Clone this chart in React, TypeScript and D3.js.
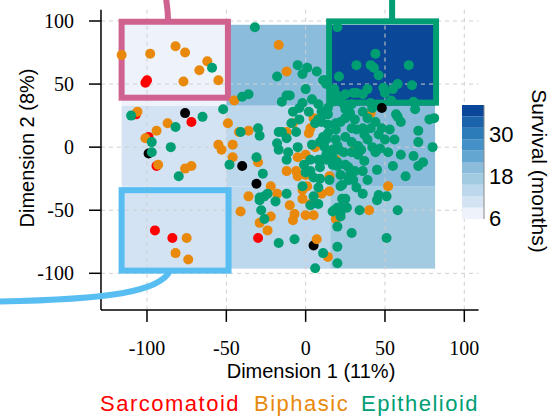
import React, { useEffect, useRef } from 'react';
import * as d3 from 'd3';

const xTicks = [-100, -50, 0, 50, 100];
const yTicks = [-100, -50, 0, 50, 100];
const plotLimits = [-129, 109];

// survival heatmap behind the points (rows bottom -> top)
const cellBreaksX = [-116, -50, 15.5, 81.6];
const cellBreaksY = [-96.3, -31.3, 32.9, 97];
const survivalGrid = [
  [10, 13, 17],
  [10.5, 13.5, 20.5],
  [7, 20, 37],
];
const survivalDomain = [5.7, 38.3];
const survivalTicks = [6, 18, 30];
const survivalColors = ['#edf2fb', '#d3e3f3', '#bdd7ec', '#a2cbe2', '#8bbcdb', '#62a6d1', '#4391c6', '#2d7cba', '#1b63aa', '#0a4798'];

// highlight boxes [x0, x1, y0, y1]
const pinkBox = [-116, -49, 39.2, 99.4];
const greenBox = [14.8, 82.2, 35.3, 99.7];
const blueBox = [-116, -48.6, -97.9, -34.1];

const sarcomatoid = [[-101,51],[-100,53],[-107,26],[-72,20],[-99,8],[-94,-15],[-95,-66],[-84,-72],[-30,-72]];
const unclassified = [[-76,27],[-99,-5],[-40,-15],[-31,-29],[5,-78],[48,31]];
const biphasic = [
  [-116,73],[-98,74],[-82,80],[-76,75],[-62,68],[-67,61],[-77,52],[-55,53],[-106,28],[-87,19],
  [-94,13],[-101,7],[-93,-14],[-76,-17],[-72,-15],[-45,37],[-49,19],[-42,12],[-36,13],[-55,2],
  [-53,-2],[-46,2],[-46,-8],[-30,-12],[-22,-31],[-36,-39],[-18,-37],[-41,-51],[-22,-55],[-29,-60],
  [-24,-66],[-10,-46],[-7,-53],[-8,-58],[-2,-41],[-2,-34],[3,-45],[0,-54],[5,-54],[10,-37],
  [15,-35],[7,-73],[14,-87],[-75,-72],[-82,-84],[-74,-89],[-17,81],[-12,60],[5,23],[-8,19],
  [-12,12],[2,11],[6,0],[-5,-8],[0,-6],[-12,-19],[-6,-19],[-5,-23],[0,-22],[15,-23],
  [19,-10],[31,-1],[52,-31],[19,-57],[40,-50],[41,27],[1,-31],[3,15],
];
const epithelioid = [
  [-59,63],[-32,95],[-40,40],[-36,42],[-52,30],[-65,24],[-110,25],[-82,16],[-97,4],[-85,0],
  [-97,-4],[-80,-23],[-48,-14],[-27,-21],[-41,12],[-30,15],[-29,9],[-31,-8],[-17,12],[-18,3],
  [-29,-40],[-26,-39],[-29,-42],[-24,-37],[-19,-43],[-12,-37],[-28,-50],[-26,-57],[-17,-76],[-7,-73],
  [-2,-31],[5,-39],[8,-45],[3,-46],[11,-84],[6,-96],[20,-79],[20,-92],[20,-63],[29,-68],
  [51,-72],[22,-52],[22,-55],[25,-41],[22,-31],[-18,56],[-5,65],[1,63],[7,60],[12,53],
  [13,50],[0,46],[-12,41],[-10,41],[-15,36],[-2,35],[-4,31],[10,28],[6,19],[10,20],
  [14,18],[-9,19],[-15,12],[-12,7],[-5,0],[13,6],[12,0],[-17,-2],[-11,-4],[-12,-10],
  [-1,-14],[3,-19],[5,-24],[9,-25],[10,-10],[13,-6],[17,-2],[8,-32],[17,-14],[20,95],
  [44,74],[32,65],[41,65],[43,63],[46,57],[65,65],[21,56],[49,47],[50,43],[58,50],
  [55,46],[67,49],[39,46],[36,42],[32,43],[30,43],[18,46],[19,42],[22,40],[54,37],
  [29,34],[24,34],[68,36],[69,30],[41,35],[42,31],[36,28],[28,27],[25,23],[22,20],
  [19,19],[39,23],[44,20],[41,15],[36,15],[32,14],[29,15],[58,24],[60,20],[78,22],
  [81,23],[48,15],[53,14],[71,13],[50,6],[71,4],[80,0],[25,8],[19,6],[20,1],
  [29,4],[33,1],[39,6],[42,0],[21,-2],[24,-4],[29,-4],[33,-6],[35,-2],[37,-11],
  [36,-19],[44,-4],[47,-1],[52,-4],[20,-15],[27,-16],[28,-22],[27,-26],[30,-26],[23,-30],
  [45,-18],[55,-15],[68,-7],[71,-15],[74,-12],[63,-23],[32,-32],[36,-37],[46,-38],[45,-42],
  [51,-39],[26,-48],[18,-50],[20,-48],[34,-50],[58,-50],[14,11],[11,8],[9,4],[8,-10],
  [13,-10],[17,-8],[20,-12],[0,-20],[17,-51],[23,-41],[22,-48],[-2,58],[11,53],[17,36],
  [25,42],[11,26],[8,22],[57,26],[4,38],[8,34],[14,31],[2,28],[-8,28],
  [25,30],[31,22],[37,10],[46,10],[25,-14],[31,-19],[39,-26],[22,-22],[56,6],[60,-6],
  [14,26],[19,14],[-4,22],[-6,12],[4,2],[9,-16],[15,-26],[3,-10],
];

const groups = [
  { name: 'Unclassified', color: '#000000', points: unclassified },
  { name: 'Sarcomatoid', color: '#FF0000', points: sarcomatoid },
  { name: 'Biphasic', color: '#E8890C', points: biphasic },
  { name: 'Epithelioid', color: '#009E73', points: epithelioid },
];

const legendItems = [
  { label: 'Sarcomatoid', color: '#FF0000', x: 100 },
  { label: 'Biphasic', color: '#E8890C', x: 254 },
  { label: 'Epithelioid', color: '#009E73', x: 361 },
];

function App() {
  const svgRef = useRef(null);

  useEffect(() => {
    const svg = d3.select(svgRef.current);
    svg.selectAll('*').remove();

    const x = d3.scaleLinear().domain([-100, 100]).range([147, 464.3]);
    const y = d3.scaleLinear().domain([-100, 100]).range([273.3, 21]);
    const color = d3.scaleQuantize().domain(survivalDomain).range(survivalColors);

    const serif = 'Liberation Serif';
    const sans = 'Liberation Sans';

    // heatmap cells
    const cells = [];
    survivalGrid.forEach((row, r) => {
      row.forEach((v, c) => cells.push({ r, c, v }));
    });
    svg.append('g').selectAll('rect')
      .data(cells).enter().append('rect')
      .attr('x', d => x(cellBreaksX[d.c]))
      .attr('width', d => x(cellBreaksX[d.c + 1]) - x(cellBreaksX[d.c]))
      .attr('y', d => y(cellBreaksY[d.r + 1]))
      .attr('height', d => y(cellBreaksY[d.r]) - y(cellBreaksY[d.r + 1]))
      .attr('fill', d => color(d.v));

    // grid
    const grid = svg.append('g').attr('stroke', '#cfcfcf').attr('stroke-dasharray', '4,4').attr('stroke-width', 1);
    xTicks.forEach(t => {
      grid.append('line').attr('x1', x(t)).attr('x2', x(t)).attr('y1', y(plotLimits[1])).attr('y2', y(plotLimits[0]));
    });
    yTicks.forEach(t => {
      grid.append('line').attr('y1', y(t)).attr('y2', y(t)).attr('x1', x(plotLimits[0])).attr('x2', x(plotLimits[1]));
    });

    // axes (L shaped)
    const axis = svg.append('g').attr('stroke', '#000').attr('stroke-width', 1.5);
    axis.append('line').attr('x1', x(plotLimits[0])).attr('x2', x(plotLimits[0]))
      .attr('y1', y(plotLimits[1])).attr('y2', y(plotLimits[0]));
    axis.append('line').attr('x1', x(plotLimits[0])).attr('x2', x(plotLimits[1]))
      .attr('y1', y(plotLimits[0])).attr('y2', y(plotLimits[0]));
    const x0 = x(plotLimits[0]);
    const y0 = y(plotLimits[0]);
    yTicks.forEach(t => {
      axis.append('line').attr('x1', x0 - 12).attr('x2', x0).attr('y1', y(t)).attr('y2', y(t));
      svg.append('text').attr('x', x0 - 27).attr('y', y(t)).attr('dy', '0.33em')
        .attr('text-anchor', 'end').attr('font-family', serif).attr('font-size', 20).text(t);
    });
    xTicks.forEach(t => {
      axis.append('line').attr('x1', x(t)).attr('x2', x(t)).attr('y1', y0).attr('y2', y0 + 12);
      svg.append('text').attr('x', x(t)).attr('y', y0 + 45)
        .attr('text-anchor', 'middle').attr('font-family', serif).attr('font-size', 20).text(t);
    });

    svg.append('text').attr('x', 311).attr('y', 378).attr('text-anchor', 'middle')
      .attr('font-family', sans).attr('font-size', 20).text('Dimension 1 (11%)');
    svg.append('text').attr('transform', 'translate(34,148) rotate(-90)').attr('text-anchor', 'middle')
      .attr('font-family', sans).attr('font-size', 20).text('Dimension 2 (8%)');

    // boxes and connectors
    const drawBox = (b, stroke) => {
      svg.append('rect')
        .attr('x', x(b[0])).attr('y', y(b[3]))
        .attr('width', x(b[1]) - x(b[0])).attr('height', y(b[2]) - y(b[3]))
        .attr('fill', 'none').attr('stroke', stroke).attr('stroke-width', 6);
    };
    drawBox(pinkBox, '#D0628F');
    drawBox(greenBox, '#009E73');
    drawBox(blueBox, '#58BEF2');

    const pinkPath = d3.path();
    pinkPath.moveTo(x(-86.7), y(pinkBox[3]));
    pinkPath.bezierCurveTo(x(-86.7), y(108), x(-87.3), y(113), x(-88.3), y(120));
    svg.append('path').attr('d', pinkPath.toString()).attr('fill', 'none').attr('stroke', '#D0628F').attr('stroke-width', 6);

    svg.append('line').attr('x1', x(54.5)).attr('x2', x(54.5)).attr('y1', y(greenBox[3])).attr('y2', y(120))
      .attr('stroke', '#009E73').attr('stroke-width', 6);

    const bluePath = d3.path();
    bluePath.moveTo(x(-85.5), y(blueBox[2]));
    bluePath.bezierCurveTo(x(-91.8), y(-114.5), x(-123.3), y(-120.8), x(-196), y(-122.4));
    svg.append('path').attr('d', bluePath.toString()).attr('fill', 'none').attr('stroke', '#58BEF2').attr('stroke-width', 6);

    // points
    groups.forEach(g => {
      svg.append('g').selectAll('circle')
        .data(g.points).enter().append('circle')
        .attr('cx', d => x(d[0])).attr('cy', d => y(d[1])).attr('r', 5)
        .attr('fill', g.color);
    });

    // colour bar
    const barY = d3.scaleLinear().domain(survivalDomain).range([219, 105]);
    const step = (survivalDomain[1] - survivalDomain[0]) / survivalColors.length;
    const bar = svg.append('g');
    survivalColors.forEach((c, i) => {
      const lo = survivalDomain[0] + i * step;
      bar.append('rect').attr('x', 462).attr('width', 22)
        .attr('y', barY(lo + step)).attr('height', barY(lo) - barY(lo + step)).attr('fill', c);
    });
    bar.append('line').attr('x1', 484).attr('x2', 484).attr('y1', barY(survivalDomain[0])).attr('y2', barY(survivalDomain[1]))
      .attr('stroke', '#888').attr('stroke-width', 1);
    survivalTicks.forEach(t => {
      bar.append('text').attr('x', 489).attr('y', barY(t)).attr('dy', '0.36em')
        .attr('font-family', sans).attr('font-size', 22).text(t);
    });
    svg.append('text').attr('transform', 'translate(532,171) rotate(90)').attr('text-anchor', 'middle')
      .attr('font-family', sans).attr('font-size', 21).text('Survival (months)');

    // legend
    legendItems.forEach(l => {
      svg.append('text').attr('x', l.x).attr('y', 411).attr('fill', l.color)
        .attr('letter-spacing', 1.5)
        .attr('font-family', sans).attr('font-size', 22).text(l.label);
    });
  }, []);

  return (
    <svg ref={svgRef} width={553} height={417}
      style={{ position: 'absolute', left: 0, top: 0, background: '#fff' }} />
  );
}

export default App;
